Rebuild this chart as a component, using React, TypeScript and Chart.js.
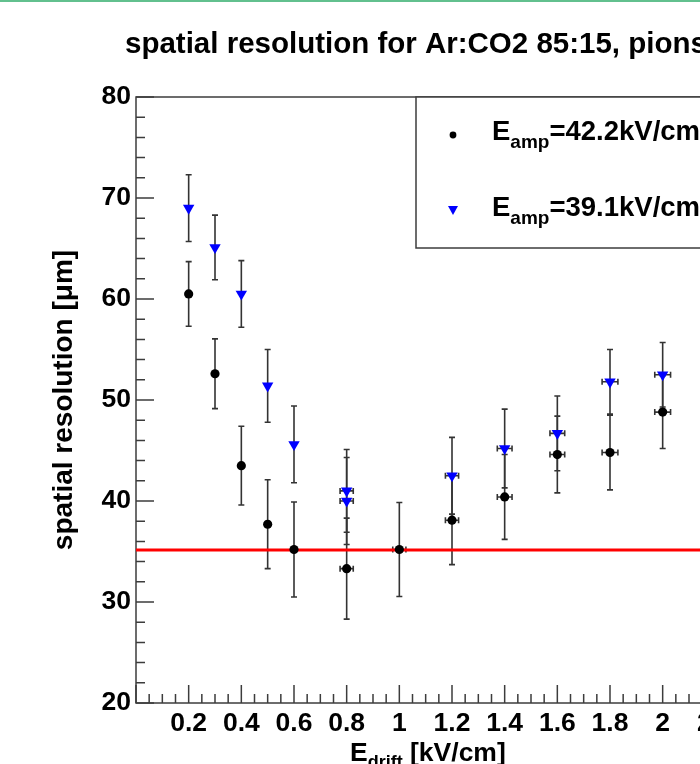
import React, { useEffect, useRef } from 'react';
import { Chart, registerables } from 'chart.js';

Chart.register(...registerables);

const TITLE = 'spatial resolution for Ar:CO2 85:15, pions';
const Y_TITLE = 'spatial resolution [\u03bcm]';
const X_TITLE = ['E', 'drift', ' [kV/cm]'];
const LEGEND_A = ['E', 'amp', '=42.2kV/cm'];
const LEGEND_B = ['E', 'amp', '=39.1kV/cm'];

const X_MIN = 0;
const X_MAX = 2.4;
const Y_MIN = 20;
const Y_MAX = 80;
const FIT = 35.15;

// Eamp = 42.2 kV/cm (black circles)
const xA = [0.2, 0.3, 0.4, 0.5, 0.6, 0.8, 1.0, 1.2, 1.4, 1.6, 1.8, 2.0];
const yA = [60.5, 52.6, 43.5, 37.7, 35.2, 33.3, 35.2, 38.1, 40.4, 44.6, 44.8, 48.8];
const eyA = [3.2, 3.45, 3.9, 4.4, 4.7, 5.0, 4.65, 4.4, 4.2, 3.8, 3.7, 3.6];
const exA = [0, 0, 0, 0, 0, 0.025, 0.025, 0.025, 0.028, 0.028, 0.03, 0.03];

// Eamp = 39.1 kV/cm (blue triangles)
const xB = [0.2, 0.3, 0.4, 0.5, 0.6, 0.8, 0.8, 1.2, 1.4, 1.6, 1.8, 2.0];
const yB = [69.0, 65.1, 60.5, 51.4, 45.6, 41.0, 40.0, 42.5, 45.2, 46.7, 51.8, 52.5];
const eyB = [3.3, 3.2, 3.3, 3.6, 3.8, 4.1, 4.3, 3.8, 3.9, 3.7, 3.2, 3.2];
const exB = [0, 0, 0, 0, 0, 0.025, 0.025, 0.025, 0.028, 0.028, 0.03, 0.03];

const X_MAJOR = 0.2;
const X_MINOR = 0.05;
const Y_MAJOR = 10;
const Y_MINOR = 2;

const FONT = 'Liberation Sans, Arial, sans-serif';
const AXIS_GRAY = '#3c3c3c';

function drawSubText(ctx: CanvasRenderingContext2D, parts: string[], x: number, y: number, size: number, subSize: number) {
  ctx.textAlign = 'left';
  ctx.textBaseline = 'alphabetic';
  ctx.font = `bold ${size}px ${FONT}`;
  ctx.fillText(parts[0], x, y);
  let cx = x + ctx.measureText(parts[0]).width;
  ctx.font = `bold ${subSize}px ${FONT}`;
  ctx.fillText(parts[1], cx, y + size * 0.28);
  cx += ctx.measureText(parts[1]).width;
  ctx.font = `bold ${size}px ${FONT}`;
  ctx.fillText(parts[2], cx, y);
}

const framePlugin = {
  id: 'rootFrame',
  beforeDatasetsDraw(chart: any) {
    const { ctx, chartArea: a, scales } = chart;
    const x = scales.x;
    const y = scales.y;
    ctx.save();
    ctx.strokeStyle = AXIS_GRAY;
    ctx.lineWidth = 1.5;
    ctx.strokeRect(a.left, a.top, a.right - a.left, a.bottom - a.top);
    // x ticks (inside, from bottom)
    const nx = Math.round((x.max - x.min) / X_MINOR);
    ctx.beginPath();
    for (let i = 0; i <= nx; i++) {
      const v = x.min + i * X_MINOR;
      const px = x.getPixelForValue(v);
      const len = i % Math.round(X_MAJOR / X_MINOR) === 0 ? 18 : 9;
      ctx.moveTo(px, a.bottom);
      ctx.lineTo(px, a.bottom - len);
    }
    // y ticks (inside, from left)
    const ny = Math.round((y.max - y.min) / Y_MINOR);
    for (let i = 0; i <= ny; i++) {
      const v = y.min + i * Y_MINOR;
      const py = y.getPixelForValue(v);
      const len = i % Math.round(Y_MAJOR / Y_MINOR) === 0 ? 18 : 9;
      ctx.moveTo(a.left, py);
      ctx.lineTo(a.left + len, py);
    }
    ctx.stroke();

    // error bars
    ctx.strokeStyle = '#333333';
    ctx.lineWidth = 1.6;
    const sets: [number[], number[], number[], number[]][] = [
      [xA, yA, exA, eyA],
      [xB, yB, exB, eyB],
    ];
    for (const [xs, ys, exs, eys] of sets) {
      xs.forEach((xv, i) => {
        const px = x.getPixelForValue(xv);
        const py = y.getPixelForValue(ys[i]);
        const top = y.getPixelForValue(ys[i] + eys[i]);
        const bot = y.getPixelForValue(ys[i] - eys[i]);
        ctx.beginPath();
        ctx.moveTo(px, top);
        ctx.lineTo(px, bot);
        ctx.moveTo(px - 3, top);
        ctx.lineTo(px + 3, top);
        ctx.moveTo(px - 3, bot);
        ctx.lineTo(px + 3, bot);
        if (exs[i] > 0) {
          const l = x.getPixelForValue(xv - exs[i]);
          const r = x.getPixelForValue(xv + exs[i]);
          ctx.moveTo(l, py);
          ctx.lineTo(r, py);
          ctx.moveTo(l, py - 3);
          ctx.lineTo(l, py + 3);
          ctx.moveTo(r, py - 3);
          ctx.lineTo(r, py + 3);
        }
        ctx.stroke();
      });
    }
    ctx.restore();
  },
  afterDraw(chart: any) {
    const { ctx, chartArea: a } = chart;
    ctx.save();
    // top green edge line
    ctx.fillStyle = '#62c08e';
    ctx.fillRect(0, 0, chart.width, 2);

    ctx.fillStyle = '#000';
    // main title
    ctx.font = `bold 29.5px ${FONT}`;
    ctx.textAlign = 'left';
    ctx.textBaseline = 'alphabetic';
    ctx.fillText(TITLE, a.left - 11, 53);

    // x axis title
    drawSubText(ctx, X_TITLE, a.left + 214, a.bottom + 58, 26.5, 18);

    // legend box
    const lx = a.left + 280;
    const ly = a.top;
    const lw = a.right - 10 - lx;
    const lh = 151;
    ctx.fillStyle = '#fff';
    ctx.fillRect(lx, ly, lw, lh);
    ctx.strokeStyle = AXIS_GRAY;
    ctx.lineWidth = 1.5;
    ctx.strokeRect(lx, ly, lw, lh);

    // legend markers
    ctx.fillStyle = '#000';
    ctx.beginPath();
    ctx.arc(lx + 37, ly + 38, 3.4, 0, Math.PI * 2);
    ctx.fill();
    ctx.fillStyle = '#0000ff';
    ctx.beginPath();
    const tx = lx + 37;
    const ty = ly + 113;
    ctx.moveTo(tx - 5, ty - 4);
    ctx.lineTo(tx + 5, ty - 4);
    ctx.lineTo(tx, ty + 5);
    ctx.closePath();
    ctx.fill();

    ctx.fillStyle = '#000';
    drawSubText(ctx, LEGEND_A, lx + 76, ly + 43, 27.5, 19);
    drawSubText(ctx, LEGEND_B, lx + 76, ly + 119, 27.5, 19);
    ctx.restore();
  },
};

export default function App() {
  const ref = useRef<HTMLCanvasElement | null>(null);

  useEffect(() => {
    if (!ref.current) return;
    const chart = new Chart(ref.current, {
      type: 'scatter',
      data: {
        datasets: [
          {
            label: LEGEND_A.join(''),
            data: xA.map((x, i) => ({ x, y: yA[i] })),
            pointStyle: 'circle',
            pointRadius: 4.6,
            backgroundColor: '#000000',
            borderColor: '#000000',
            borderWidth: 0,
            order: 1,
          },
          {
            label: LEGEND_B.join(''),
            data: xB.map((x, i) => ({ x, y: yB[i] })),
            pointStyle: 'triangle',
            rotation: 180,
            pointRadius: 6.6,
            backgroundColor: '#0000ff',
            borderColor: '#0000ff',
            borderWidth: 0,
            order: 2,
          },
          {
            type: 'line',
            label: 'fit',
            data: [
              { x: X_MIN, y: FIT },
              { x: X_MAX, y: FIT },
            ],
            borderColor: '#ff0000',
            borderWidth: 3,
            pointRadius: 0,
            fill: false,
            order: 3,
          } as any,
        ],
      },
      options: {
        responsive: false,
        animation: false,
        devicePixelRatio: 1,
        layout: { padding: { top: 97, left: 0, right: 32, bottom: 0 } },
        plugins: {
          legend: { display: false },
          title: { display: false },
          tooltip: { enabled: false },
        },
        scales: {
          x: {
            type: 'linear',
            min: X_MIN,
            max: X_MAX,
            grid: { display: false, drawTicks: false },
            border: { display: false },
            ticks: {
              stepSize: X_MAJOR,
              autoSkip: false,
              maxRotation: 0,
              padding: 5,
              color: '#000',
              font: { family: FONT, size: 26.5, weight: 'bold' },
              callback: (v: any) => (Number(v) === 0 ? '' : String(Math.round(Number(v) * 10) / 10)),
            },
            afterFit: (s: any) => {
              s.height = 61;
            },
          },
          y: {
            type: 'linear',
            min: Y_MIN,
            max: Y_MAX,
            grid: { display: false, drawTicks: false },
            border: { display: false },
            ticks: {
              stepSize: Y_MAJOR,
              padding: 5,
              color: '#000',
              font: { family: FONT, size: 26.5, weight: 'bold' },
              callback: (v: any) => String(v),
            },
            title: {
              display: true,
              text: Y_TITLE,
              color: '#000',
              font: { family: FONT, size: 28, weight: 'bold' },
              padding: { top: 47, bottom: 0 },
            },
            afterFit: (s: any) => {
              s.width = 136;
            },
          },
        },
      },
      plugins: [framePlugin],
    });
    return () => chart.destroy();
  }, []);

  return (
    <div
      style={{
        position: 'fixed',
        left: 0,
        top: 0,
        width: 700,
        height: 764,
        overflow: 'hidden',
        background: '#fff',
      }}
    >
      <canvas ref={ref} width={800} height={764} style={{ display: 'block' }} />
    </div>
  );
}
